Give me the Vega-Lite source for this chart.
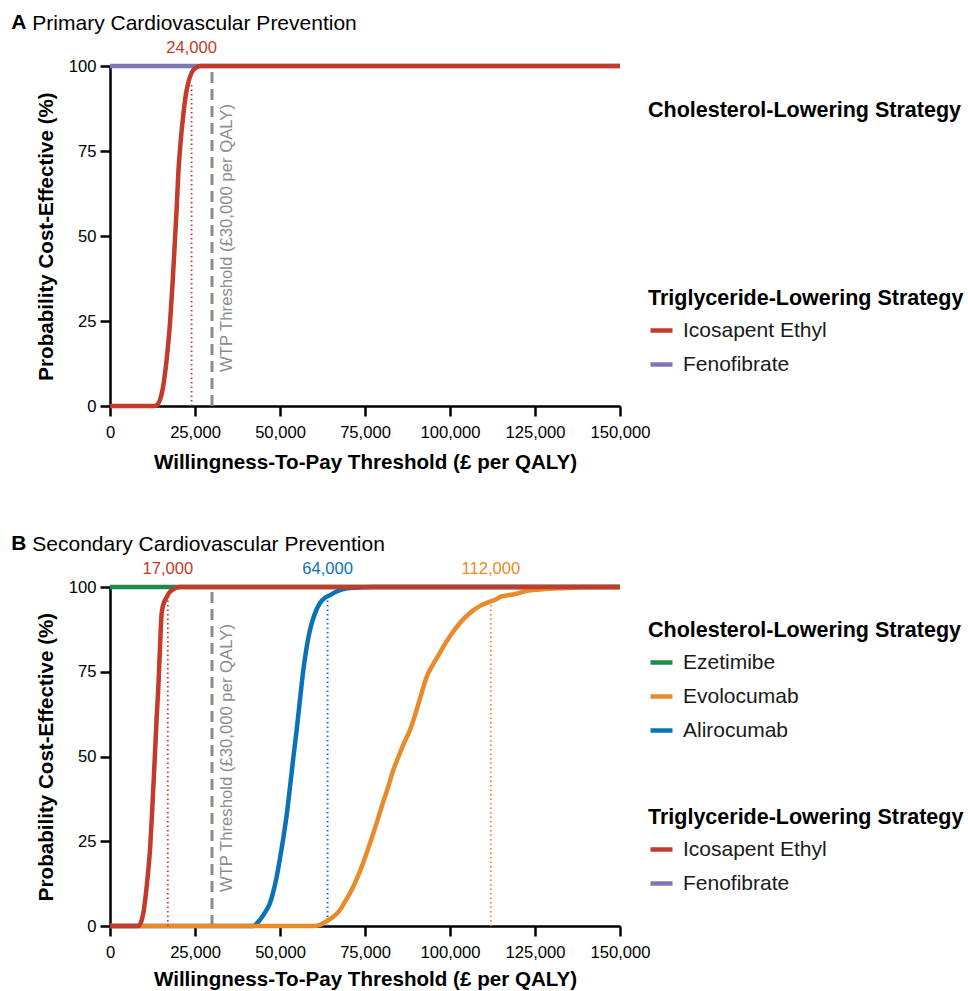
{
  "$schema": "https://vega.github.io/schema/vega-lite/v6.json",
  "padding": {"left": 11, "top": 12, "right": 4, "bottom": 2},
  "config": {
    "font": "Liberation Sans",
    "view": {"stroke": null},
    "axis": {
      "grid": false,
      "domainColor": "#000",
      "domainWidth": 2.5,
      "tickColor": "#000",
      "tickWidth": 2.5,
      "tickSize": 10,
      "labelFontSize": 16.6,
      "labelColor": "#000",
      "titleFontSize": 20.6,
      "titleFontWeight": "bold",
      "titleColor": "#000",
      "labelFlush": false,
      "labelOverlap": false
    },
    "legend": {
      "orient": "none",
      "titleFontSize": 21.5,
      "titleFontWeight": "bold",
      "titleColor": "#000",
      "titleLimit": 400,
      "labelFontSize": 21,
      "labelColor": "#1a1a1a",
      "labelLimit": 400,
      "symbolType": "stroke",
      "symbolSize": 484,
      "symbolStrokeWidth": 4.5,
      "rowPadding": 10,
      "titlePadding": 7.5,
      "labelOffset": 8,
      "padding": 0
    },
    "title": {
      "font": "Liberation Sans",
      "fontSize": 21,
      "color": "#000",
      "anchor": "start",
      "frame": "bounds"
    }
  },
  "datasets": {
    "curvesA": [
      {"drug": "Fenofibrate", "x": 0, "y": 100}, {"drug": "Fenofibrate", "x": 150000, "y": 100},
      {"drug": "Icosapent Ethyl", "x": 0, "y": 0}, {"drug": "Icosapent Ethyl", "x": 5000, "y": 0},
      {"drug": "Icosapent Ethyl", "x": 10000, "y": 0}, {"drug": "Icosapent Ethyl", "x": 13000, "y": 0},
      {"drug": "Icosapent Ethyl", "x": 14000, "y": 0.5}, {"drug": "Icosapent Ethyl", "x": 14700, "y": 1.8},
      {"drug": "Icosapent Ethyl", "x": 15500, "y": 5}, {"drug": "Icosapent Ethyl", "x": 16200, "y": 9.7},
      {"drug": "Icosapent Ethyl", "x": 17000, "y": 17}, {"drug": "Icosapent Ethyl", "x": 17650, "y": 24.4},
      {"drug": "Icosapent Ethyl", "x": 18400, "y": 36}, {"drug": "Icosapent Ethyl", "x": 19100, "y": 48.8},
      {"drug": "Icosapent Ethyl", "x": 19600, "y": 58}, {"drug": "Icosapent Ethyl", "x": 20100, "y": 68.5},
      {"drug": "Icosapent Ethyl", "x": 20800, "y": 78}, {"drug": "Icosapent Ethyl", "x": 21600, "y": 86},
      {"drug": "Icosapent Ethyl", "x": 22300, "y": 91.5}, {"drug": "Icosapent Ethyl", "x": 23000, "y": 95},
      {"drug": "Icosapent Ethyl", "x": 23800, "y": 97.5}, {"drug": "Icosapent Ethyl", "x": 24500, "y": 98.8},
      {"drug": "Icosapent Ethyl", "x": 25500, "y": 99.6}, {"drug": "Icosapent Ethyl", "x": 26500, "y": 100},
      {"drug": "Icosapent Ethyl", "x": 40000, "y": 100}, {"drug": "Icosapent Ethyl", "x": 150000, "y": 100}
    ],
    "curvesB": [
      {"drug": "Ezetimibe", "x": 0, "y": 100}, {"drug": "Ezetimibe", "x": 150000, "y": 100},
      {"drug": "Icosapent Ethyl", "x": 0, "y": 0}, {"drug": "Icosapent Ethyl", "x": 5000, "y": 0},
      {"drug": "Icosapent Ethyl", "x": 8300, "y": 0}, {"drug": "Icosapent Ethyl", "x": 9000, "y": 0.8},
      {"drug": "Icosapent Ethyl", "x": 9800, "y": 3.8}, {"drug": "Icosapent Ethyl", "x": 10500, "y": 9},
      {"drug": "Icosapent Ethyl", "x": 11270, "y": 16.5}, {"drug": "Icosapent Ethyl", "x": 11800, "y": 23},
      {"drug": "Icosapent Ethyl", "x": 12250, "y": 31}, {"drug": "Icosapent Ethyl", "x": 12750, "y": 41},
      {"drug": "Icosapent Ethyl", "x": 13240, "y": 51}, {"drug": "Icosapent Ethyl", "x": 13700, "y": 61},
      {"drug": "Icosapent Ethyl", "x": 14220, "y": 70.5}, {"drug": "Icosapent Ethyl", "x": 14700, "y": 82},
      {"drug": "Icosapent Ethyl", "x": 15200, "y": 92.3}, {"drug": "Icosapent Ethyl", "x": 15900, "y": 95.5},
      {"drug": "Icosapent Ethyl", "x": 16670, "y": 97}, {"drug": "Icosapent Ethyl", "x": 17400, "y": 98.3},
      {"drug": "Icosapent Ethyl", "x": 18140, "y": 99}, {"drug": "Icosapent Ethyl", "x": 19300, "y": 99.7},
      {"drug": "Icosapent Ethyl", "x": 20600, "y": 100}, {"drug": "Icosapent Ethyl", "x": 150000, "y": 100},
      {"drug": "Alirocumab", "x": 0, "y": 0}, {"drug": "Alirocumab", "x": 42000, "y": 0},
      {"drug": "Alirocumab", "x": 44100, "y": 1.8}, {"drug": "Alirocumab", "x": 45600, "y": 4},
      {"drug": "Alirocumab", "x": 47060, "y": 6.8}, {"drug": "Alirocumab", "x": 48000, "y": 10},
      {"drug": "Alirocumab", "x": 49020, "y": 14.5}, {"drug": "Alirocumab", "x": 50000, "y": 20},
      {"drug": "Alirocumab", "x": 50980, "y": 26}, {"drug": "Alirocumab", "x": 52000, "y": 33},
      {"drug": "Alirocumab", "x": 52940, "y": 41}, {"drug": "Alirocumab", "x": 53900, "y": 49.5},
      {"drug": "Alirocumab", "x": 54900, "y": 57.8}, {"drug": "Alirocumab", "x": 55900, "y": 67},
      {"drug": "Alirocumab", "x": 56860, "y": 75.5}, {"drug": "Alirocumab", "x": 57800, "y": 82},
      {"drug": "Alirocumab", "x": 58820, "y": 87.3}, {"drug": "Alirocumab", "x": 60200, "y": 92},
      {"drug": "Alirocumab", "x": 61760, "y": 95.3}, {"drug": "Alirocumab", "x": 63200, "y": 96.8},
      {"drug": "Alirocumab", "x": 64700, "y": 97.6}, {"drug": "Alirocumab", "x": 66500, "y": 98.6},
      {"drug": "Alirocumab", "x": 68630, "y": 99.4}, {"drug": "Alirocumab", "x": 72000, "y": 99.8},
      {"drug": "Alirocumab", "x": 77400, "y": 100}, {"drug": "Alirocumab", "x": 150000, "y": 100},
      {"drug": "Evolocumab", "x": 0, "y": 0}, {"drug": "Evolocumab", "x": 60000, "y": 0},
      {"drug": "Evolocumab", "x": 61760, "y": 0.3}, {"drug": "Evolocumab", "x": 63500, "y": 1.3},
      {"drug": "Evolocumab", "x": 65690, "y": 2.7}, {"drug": "Evolocumab", "x": 67500, "y": 4.5},
      {"drug": "Evolocumab", "x": 69500, "y": 7.8}, {"drug": "Evolocumab", "x": 71000, "y": 10.5},
      {"drug": "Evolocumab", "x": 72550, "y": 13.8}, {"drug": "Evolocumab", "x": 74500, "y": 18.7},
      {"drug": "Evolocumab", "x": 76500, "y": 24.5}, {"drug": "Evolocumab", "x": 78430, "y": 30.4},
      {"drug": "Evolocumab", "x": 80000, "y": 35.5}, {"drug": "Evolocumab", "x": 81800, "y": 41},
      {"drug": "Evolocumab", "x": 83330, "y": 46}, {"drug": "Evolocumab", "x": 84800, "y": 49.8},
      {"drug": "Evolocumab", "x": 86300, "y": 53.6}, {"drug": "Evolocumab", "x": 88240, "y": 57.8},
      {"drug": "Evolocumab", "x": 89500, "y": 61.5}, {"drug": "Evolocumab", "x": 91300, "y": 67.5},
      {"drug": "Evolocumab", "x": 93140, "y": 73.5}, {"drug": "Evolocumab", "x": 95200, "y": 77.5},
      {"drug": "Evolocumab", "x": 96800, "y": 80.2}, {"drug": "Evolocumab", "x": 98040, "y": 82.4},
      {"drug": "Evolocumab", "x": 100000, "y": 85.5}, {"drug": "Evolocumab", "x": 101960, "y": 88.2},
      {"drug": "Evolocumab", "x": 104000, "y": 90.6}, {"drug": "Evolocumab", "x": 106860, "y": 93.1},
      {"drug": "Evolocumab", "x": 109000, "y": 94.5}, {"drug": "Evolocumab", "x": 111760, "y": 95.7},
      {"drug": "Evolocumab", "x": 113500, "y": 96.3}, {"drug": "Evolocumab", "x": 115000, "y": 97.2},
      {"drug": "Evolocumab", "x": 116670, "y": 97.5}, {"drug": "Evolocumab", "x": 118500, "y": 97.8},
      {"drug": "Evolocumab", "x": 120590, "y": 98.3}, {"drug": "Evolocumab", "x": 122500, "y": 98.9},
      {"drug": "Evolocumab", "x": 124510, "y": 99.1}, {"drug": "Evolocumab", "x": 128000, "y": 99.4},
      {"drug": "Evolocumab", "x": 132350, "y": 99.6}, {"drug": "Evolocumab", "x": 136000, "y": 99.8},
      {"drug": "Evolocumab", "x": 139000, "y": 100}, {"drug": "Evolocumab", "x": 150000, "y": 100}
    ],
    "annA": [
      {"drug": "Icosapent Ethyl", "x": 24000, "y": 0, "y2": 95, "label": "24,000"}
    ],
    "annB": [
      {"drug": "Icosapent Ethyl", "x": 17000, "y": 0, "y2": 96, "label": "17,000"},
      {"drug": "Alirocumab", "x": 64000, "y": 0, "y2": 97.5, "label": "64,000"},
      {"drug": "Evolocumab", "x": 112000, "y": 0, "y2": 96, "label": "112,000"}
    ],
    "wtp": [
      {"x": 30000, "y": 0, "y2": 100, "label": "WTP Threshold (£30,000 per QALY)"}
    ]
  },
  "spacing": 59,
  "vconcat": [
    {
      "title": {"text": "A", "fontWeight": "bold", "fontSize": 21, "dx": -21, "dy": 20, "offset": 0},
      "vconcat": [
        {
          "width": 510,
          "height": 340,
          "title": {"text": "Primary Cardiovascular Prevention", "fontWeight": "normal", "fontSize": 21, "dx": -4, "offset": 6},
          "encoding": {
            "x": {"field": "x", "type": "quantitative", "scale": {"domain": [0, 150000], "nice": false},
                  "axis": {"values": [0, 25000, 50000, 75000, 100000, 125000, 150000], "format": ",d", "title": "Willingness-To-Pay Threshold (£ per QALY)", "labelPadding": 8, "titlePadding": 12}},
            "y": {"field": "y", "type": "quantitative", "scale": {"domain": [0, 100], "nice": false},
                  "axis": {"values": [0, 25, 50, 75, 100], "title": "Probability Cost-Effective (%)", "labelPadding": 4, "titlePadding": 12}}
          },
          "layer": [
            {"data": {"name": "wtp"}, "mark": {"type": "rule", "color": "#8c8c8c", "strokeWidth": 3, "strokeDash": [11, 6]},
             "encoding": {"y2": {"field": "y2"}}},
            {"data": {"name": "wtp"}, "mark": {"type": "text", "angle": 270, "align": "left", "baseline": "middle", "dy": 15, "fontSize": 16.7, "color": "#8c8c8c"},
             "encoding": {"y": {"datum": 10}, "text": {"field": "label"}}},
            {"data": {"values": []}, "mark": {"type": "line", "strokeWidth": 4.5},
             "encoding": {"color": {"field": "drug", "type": "nominal",
                "scale": {"domain": ["Ezetimibe", "Evolocumab", "Alirocumab"], "range": ["#1f8a4c", "#e98b2a", "#0b72b8"]},
                "legend": {"title": "Cholesterol-Lowering Strategy", "values": [], "symbolType": "stroke", "legendX": 538, "legendY": 34}}}},
            {
              "encoding": {"color": {"field": "drug", "type": "nominal",
                "scale": {"domain": ["Icosapent Ethyl", "Fenofibrate"], "range": ["#c23b2b", "#7c78b8"]},
                "legend": {"title": "Triglyceride-Lowering Strategy", "symbolType": "stroke", "legendX": 538, "legendY": 222}}},
              "layer": [
                {"data": {"name": "annA"}, "mark": {"type": "rule", "strokeWidth": 1.8, "strokeDash": [1.5, 3]},
                 "encoding": {"y2": {"field": "y2"}}},
                {"data": {"name": "annA"}, "mark": {"type": "text", "baseline": "middle", "dy": -18, "fontSize": 16.6},
                 "encoding": {"y": {"datum": 100}, "text": {"field": "label"}}},
                {"data": {"name": "curvesA"}, "transform": [{"filter": "datum.drug === 'Fenofibrate'"}],
                 "mark": {"type": "line", "strokeWidth": 4.5, "interpolate": "monotone"}},
                {"data": {"name": "curvesA"}, "transform": [{"filter": "datum.drug === 'Icosapent Ethyl'"}],
                 "mark": {"type": "line", "strokeWidth": 4.5, "interpolate": "monotone"}}
              ]
            }
          ],
          "resolve": {"scale": {"color": "independent"}}
        }
      ]
    },
    {
      "title": {"text": "B", "fontWeight": "bold", "fontSize": 21, "dx": -21, "dy": 20, "offset": 0},
      "vconcat": [
        {
          "width": 510,
          "height": 339,
          "title": {"text": "Secondary Cardiovascular Prevention", "fontWeight": "normal", "fontSize": 21, "dx": -4, "offset": 6},
          "encoding": {
            "x": {"field": "x", "type": "quantitative", "scale": {"domain": [0, 150000], "nice": false},
                  "axis": {"values": [0, 25000, 50000, 75000, 100000, 125000, 150000], "format": ",d", "title": "Willingness-To-Pay Threshold (£ per QALY)", "labelPadding": 8, "titlePadding": 9}},
            "y": {"field": "y", "type": "quantitative", "scale": {"domain": [0, 100], "nice": false},
                  "axis": {"values": [0, 25, 50, 75, 100], "title": "Probability Cost-Effective (%)", "labelPadding": 4, "titlePadding": 12}}
          },
          "layer": [
            {"data": {"name": "wtp"}, "mark": {"type": "rule", "color": "#8c8c8c", "strokeWidth": 3, "strokeDash": [11, 6]},
             "encoding": {"y2": {"field": "y2"}}},
            {"data": {"name": "wtp"}, "mark": {"type": "text", "angle": 270, "align": "left", "baseline": "middle", "dy": 15, "fontSize": 16.7, "color": "#8c8c8c"},
             "encoding": {"y": {"datum": 10}, "text": {"field": "label"}}},
            {
              "encoding": {"color": {"field": "drug", "type": "nominal",
                "scale": {"domain": ["Ezetimibe", "Evolocumab", "Alirocumab"], "range": ["#1f8a4c", "#e98b2a", "#0b72b8"]},
                "legend": {"title": "Cholesterol-Lowering Strategy", "symbolType": "stroke", "legendX": 538, "legendY": 33}}},
              "layer": [
                {"data": {"name": "annB"}, "transform": [{"filter": "datum.drug !== 'Icosapent Ethyl'"}],
                 "mark": {"type": "rule", "strokeWidth": 1.8, "strokeDash": [1.5, 3]},
                 "encoding": {"y2": {"field": "y2"}}},
                {"data": {"name": "annB"}, "transform": [{"filter": "datum.drug !== 'Icosapent Ethyl'"}],
                 "mark": {"type": "text", "baseline": "middle", "dy": -18, "fontSize": 16.6},
                 "encoding": {"y": {"datum": 100}, "text": {"field": "label"}}},
                {"data": {"name": "curvesB"}, "transform": [{"filter": "datum.drug === 'Alirocumab'"}],
                 "mark": {"type": "line", "strokeWidth": 4.5, "interpolate": "monotone"}},
                {"data": {"name": "curvesB"}, "transform": [{"filter": "datum.drug === 'Ezetimibe'"}],
                 "mark": {"type": "line", "strokeWidth": 4.5, "interpolate": "monotone"}},
                {"data": {"name": "curvesB"}, "transform": [{"filter": "datum.drug === 'Evolocumab'"}],
                 "mark": {"type": "line", "strokeWidth": 4.5, "interpolate": "monotone"}}
              ]
            },
            {
              "encoding": {"color": {"field": "drug", "type": "nominal",
                "scale": {"domain": ["Icosapent Ethyl", "Fenofibrate"], "range": ["#c23b2b", "#7c78b8"]},
                "legend": {"title": "Triglyceride-Lowering Strategy", "symbolType": "stroke", "legendX": 538, "legendY": 220}}},
              "layer": [
                {"data": {"name": "annB"}, "transform": [{"filter": "datum.drug === 'Icosapent Ethyl'"}],
                 "mark": {"type": "rule", "strokeWidth": 1.8, "strokeDash": [1.5, 3]},
                 "encoding": {"y2": {"field": "y2"}}},
                {"data": {"name": "annB"}, "transform": [{"filter": "datum.drug === 'Icosapent Ethyl'"}],
                 "mark": {"type": "text", "baseline": "middle", "dy": -18, "fontSize": 16.6},
                 "encoding": {"y": {"datum": 100}, "text": {"field": "label"}}},
                {"data": {"name": "curvesB"}, "transform": [{"filter": "datum.drug === 'Icosapent Ethyl'"}],
                 "mark": {"type": "line", "strokeWidth": 4.5, "interpolate": "monotone"}}
              ]
            }
          ],
          "resolve": {"scale": {"color": "independent"}}
        }
      ]
    }
  ]
}
